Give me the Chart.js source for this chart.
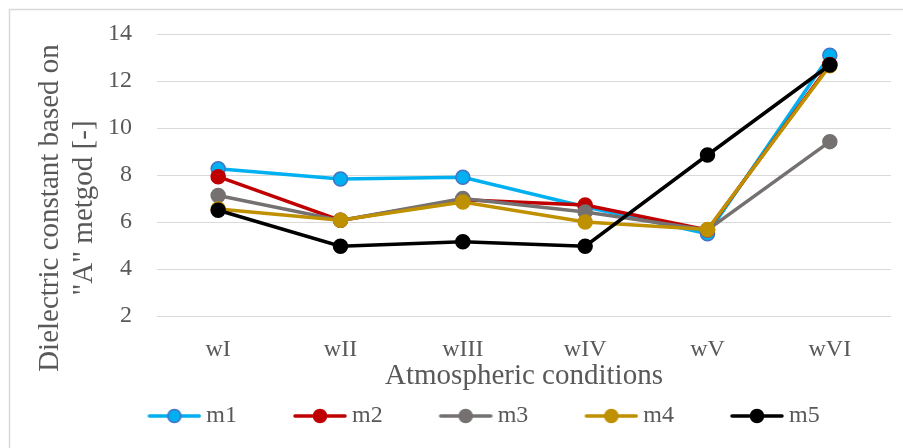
<!DOCTYPE html>
<html>
<head>
<meta charset="utf-8">
<script src="https://cdn.jsdelivr.net/npm/chart.js@4.4.1/dist/chart.umd.min.js"></script>
<style>
html,body{margin:0;padding:0;background:#fff;}
#wrap{width:903px;height:448px;position:relative;}
</style>
</head>
<body>
<div id="wrap"><canvas id="c" width="903" height="448"></canvas></div>
<script>
const categories = ["wI", "wII", "wIII", "wIV", "wV", "wVI"];
const seriesNames = ["m1", "m2", "m3", "m4", "m5"];
const m1 = [8.27, 7.83, 7.9, 6.65, 5.5, 13.1];
const m2 = [7.93, 6.07, 6.95, 6.72, 5.66, 12.7];
const m3 = [7.13, 6.07, 7.0, 6.43, 5.66, 9.42];
const m4 = [6.55, 6.07, 6.85, 6.0, 5.68, 12.65];
const m5 = [6.5, 4.97, 5.16, 4.97, 8.85, 12.68];
const yTicks = [2, 4, 6, 8, 10, 12, 14];
const yTitleLines = ["Dielectric constant based on", "\"A\" metgod [-]"];
const xTitle = "Atmospheric conditions";

const lineColors = ["#00B0F0", "#C00000", "#767171", "#BF9000", "#000000"];
const pointBorders = ["#4472C4", "#C00000", "#767171", "#BF9000", "#000000"];
const seriesValues = [m1, m2, m3, m4, m5];
const FONT = "'Liberation Serif', 'Times New Roman', serif";
const TEXT = "#595959";

const BOXW = 93;
function legendImage(i) {
  const cv = document.createElement('canvas');
  cv.width = BOXW + 14; cv.height = 20;
  const g = cv.getContext('2d');
  const x1 = cv.width - 54, x2 = cv.width, cy = 10;
  g.strokeStyle = lineColors[i]; g.lineWidth = 3.5; g.lineCap = 'round';
  g.beginPath(); g.moveTo(x1 + 2, cy); g.lineTo(x2 - 2, cy); g.stroke();
  g.beginPath(); g.arc((x1 + x2) / 2, cy, 6.5, 0, Math.PI * 2);
  g.fillStyle = lineColors[i]; g.fill();
  g.lineWidth = 1.5; g.strokeStyle = pointBorders[i]; g.stroke();
  return cv;
}
const legendImgs = seriesNames.map((n, i) => legendImage(i));

const datasets = seriesNames.map((name, i) => ({
  label: name,
  data: seriesValues[i],
  borderColor: lineColors[i],
  backgroundColor: lineColors[i],
  pointBackgroundColor: lineColors[i],
  pointBorderColor: pointBorders[i],
  pointBorderWidth: 1.5,
  pointRadius: 7,
  borderWidth: 3.5,
  tension: 0,
  order: seriesNames.length - i
}));

const framePlugin = {
  id: 'frame',
  beforeDraw(chart) {
    const ctx = chart.ctx;
    ctx.save();
    ctx.fillStyle = '#fff';
    ctx.fillRect(0, 0, chart.width, chart.height);
    ctx.strokeStyle = '#d9d9d9';
    ctx.lineWidth = 1.5;
    ctx.beginPath();
    ctx.moveTo(9.5, chart.height); ctx.lineTo(9.5, 9.5); ctx.lineTo(chart.width, 9.5);
    ctx.stroke();
    ctx.restore();
  },
  afterDraw(chart) {
    const ctx = chart.ctx;
    ctx.save();
    ctx.fillStyle = TEXT;
    ctx.font = "29px " + FONT;
    ctx.textAlign = 'center';
    ctx.textBaseline = 'alphabetic';
    const yc = 208;
    const xs = [58, 92];
    yTitleLines.forEach((t, k) => {
      ctx.save();
      ctx.translate(xs[k], yc);
      ctx.rotate(-Math.PI / 2);
      ctx.fillText(t, 0, 0);
      ctx.restore();
    });
    ctx.restore();
  }
};

new Chart(document.getElementById('c'), {
  type: 'line',
  data: { labels: categories, datasets },
  options: {
    responsive: false,
    animation: false,
    devicePixelRatio: 1,
    layout: { padding: { left: 30, right: 12, top: 34, bottom: 10 } },
    plugins: {
      tooltip: { enabled: false },
      legend: {
        position: 'bottom',
        labels: {
          usePointStyle: true,
          pointStyleWidth: BOXW,
          boxHeight: 24,
          padding: 10,
          color: TEXT,
          font: { family: FONT, size: 24 },
          generateLabels: () => seriesNames.map((n, i) => ({
            text: n, pointStyle: legendImgs[i], fillStyle: lineColors[i],
            strokeStyle: lineColors[i], lineWidth: 0, hidden: false, datasetIndex: i, fontColor: TEXT
          }))
        }
      }
    },
    scales: {
      x: {
        offset: true,
        grid: { display: false, drawTicks: false },
        border: { display: false },
        ticks: { color: TEXT, font: { family: FONT, size: 24, lineHeight: 1 }, padding: 22 },
        title: { display: true, text: xTitle, color: TEXT, font: { family: FONT, size: 29, lineHeight: 1 }, padding: { top: 0, bottom: 3 } },
        afterFit: (s) => { s.height = 78; s.paddingLeft = 0; s.paddingRight = 0; }
      },
      y: {
        min: 2, max: 14,
        afterBuildTicks: (s) => { s.ticks = yTicks.map(v => ({ value: v })); },
        grid: { color: '#d9d9d9', lineWidth: 1, drawTicks: false },
        border: { display: false },
        ticks: { color: TEXT, font: { family: FONT, size: 24 }, padding: 25 },
        afterFit: (s) => { s.width = 127; s.paddingTop = 0; s.paddingBottom = 0; }
      }
    }
  },
  plugins: [framePlugin]
});
</script>
</body>
</html>
